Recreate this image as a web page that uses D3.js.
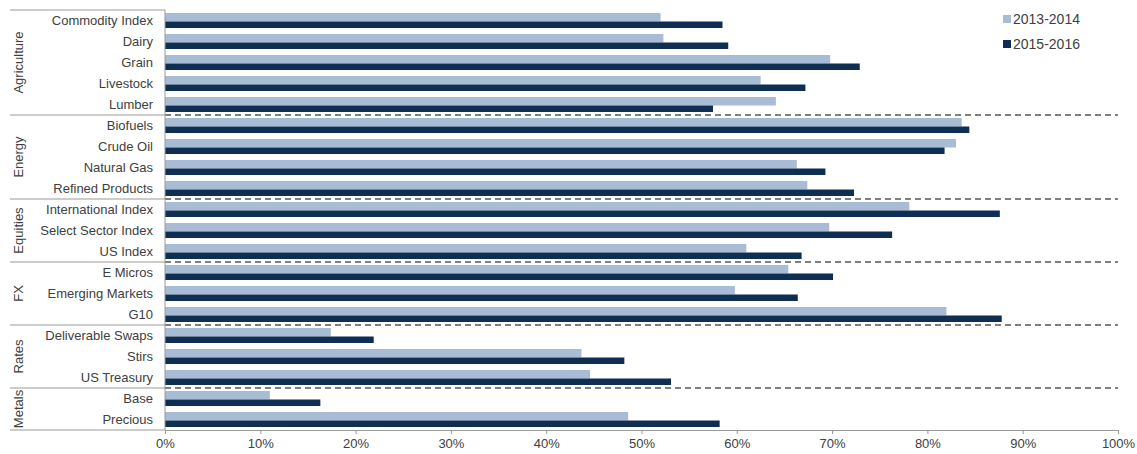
<!DOCTYPE html>
<html>
<head>
<meta charset="utf-8">
<script src="https://cdn.jsdelivr.net/npm/d3@7"></script>
<style>
  body{margin:0;background:#fff;}
  text{font-family:"Liberation Sans",Arial,sans-serif;fill:#404040;}
</style>
</head>
<body>
<svg id="chart" width="1137" height="454"></svg>
<script>
// data
var categories = ["Commodity Index","Dairy","Grain","Livestock","Lumber",
  "Biofuels","Crude Oil","Natural Gas","Refined Products",
  "International Index","Select Sector Index","US Index",
  "E Micros","Emerging Markets","G10",
  "Deliverable Swaps","Stirs","US Treasury",
  "Base","Precious"];
var groups = ["Agriculture","Energy","Equities","FX","Rates","Metals"];
var groupSizes = [5,4,3,3,3,2];
var series = ["2013-2014","2015-2016"];
var values1314 = [52.0,52.3,69.8,62.5,64.1, 83.6,83.0,66.3,67.4, 78.1,69.7,61.0, 65.4,59.8,82.0, 17.4,43.7,44.6, 11.0,48.6];
var values1516 = [58.5,59.1,72.9,67.2,57.5, 84.4,81.8,69.3,72.3, 87.6,76.3,66.8, 70.1,66.4,87.8, 21.9,48.2,53.1, 16.3,58.2];
var xTicks = [0,10,20,30,40,50,60,70,80,90,100];

var colors = ["#a9bcd6","#0e2e52"];

var svg = d3.select("#chart");
var plotLeft = 165, plotRight = 1118, plotTop = 10, plotBottom = 430;

var x = d3.scaleLinear().domain([0,100]).range([plotLeft,plotRight]);
var y = d3.scaleBand().domain(categories).range([plotTop,plotBottom]);
var rowH = y.bandwidth();

// group boundaries (index ranges)
var bounds = [];
var acc = 0;
groupSizes.forEach(function(n){ bounds.push([acc, acc+n]); acc += n; });

// dashed separators in the plot, solid ones in the label column
bounds.slice(1).forEach(function(b){
  var yy = y(categories[b[0]]);
  svg.append("line").attr("x1",plotLeft).attr("x2",plotRight).attr("y1",yy).attr("y2",yy)
    .attr("stroke","#555").attr("stroke-width",1.3).attr("stroke-dasharray","6,4");
});
bounds.forEach(function(b){
  var yy = y(categories[b[0]]);
  svg.append("line").attr("x1",10).attr("x2",plotLeft).attr("y1",yy).attr("y2",yy)
    .attr("stroke","#999").attr("stroke-width",1);
});
svg.append("line").attr("x1",10).attr("x2",plotLeft).attr("y1",plotBottom).attr("y2",plotBottom)
  .attr("stroke","#999").attr("stroke-width",1);

// bars
svg.append("g").selectAll("rect").data(categories).enter().append("rect")
  .attr("x",x(0)).attr("y",function(d){ return y(d)+3; })
  .attr("width",function(d,i){ return x(values1314[i]) - x(0); })
  .attr("height",8.5).attr("fill",colors[0]);
svg.append("g").selectAll("rect").data(categories).enter().append("rect")
  .attr("x",x(0)).attr("y",function(d){ return y(d)+11.5; })
  .attr("width",function(d,i){ return x(values1516[i]) - x(0); })
  .attr("height",6.5).attr("fill",colors[1]);

// category labels
svg.append("g").selectAll("text").data(categories).enter().append("text")
  .attr("x",153).attr("y",function(d){ return y(d)+rowH/2; })
  .attr("dy","0.35em").attr("text-anchor","end").style("font-size","13px")
  .text(function(d){ return d; });

// group labels
bounds.forEach(function(b,i){
  var cy = (y(categories[b[0]]) + y(categories[b[1]-1]) + rowH) / 2;
  svg.append("text").attr("transform","translate(18," + cy + ") rotate(-90)")
    .attr("text-anchor","middle").attr("dy","0.35em").style("font-size","13px")
    .text(groups[i]);
});

// vertical axis line
svg.append("line").attr("x1",plotLeft).attr("x2",plotLeft).attr("y1",plotTop).attr("y2",plotBottom)
  .attr("stroke","#999");

// x axis
var xAxis = svg.append("g").attr("transform","translate(0," + plotBottom + ")")
  .call(d3.axisBottom(x).tickValues(xTicks).tickSize(4).tickFormat(function(d){ return d + "%"; }));
xAxis.select(".domain").attr("stroke","#999");
xAxis.selectAll(".tick line").attr("stroke","#999");
xAxis.selectAll(".tick text").style("font-size","13px").attr("fill","#404040")
  .style("font-family","'Liberation Sans',Arial,sans-serif").attr("dy","0.85em");

// legend
var legend = svg.append("g").attr("transform","translate(1003,12)");
series.forEach(function(s,i){
  legend.append("rect").attr("x",0).attr("y",i*25+3).attr("width",8).attr("height",8).attr("fill",colors[i]);
  legend.append("text").attr("x",10).attr("y",i*25+7).attr("dy","0.35em")
    .style("font-size","14px").text(s);
});
</script>
</body>
</html>
